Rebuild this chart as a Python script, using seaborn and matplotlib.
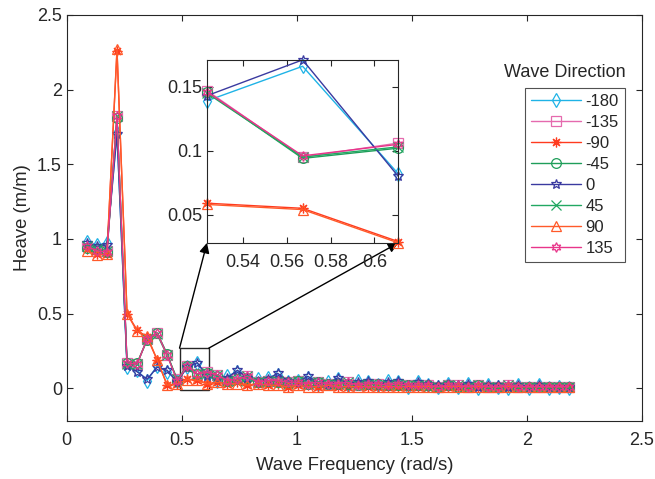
import numpy as np
import pandas as pd
import seaborn as sns
import matplotlib.pyplot as plt
from matplotlib.patches import Rectangle
from matplotlib.ticker import FuncFormatter

sns.set_theme(style="ticks")
plt.rcParams["font.family"] = ["Liberation Sans", "DejaVu Sans"]
plt.rcParams["xtick.direction"] = "in"
plt.rcParams["ytick.direction"] = "in"

# frequency steps of pi/72 rad/s, k = 2..50
steps = list(range(2, 51))
directions = ["-180", "-135", "-90", "-45", "0", "45", "90", "135"]

heave_m180 = [0.98, 0.96, 0.97, 1.71, 0.14, 0.12, 0.05, 0.15, 0.11, 0.05, 0.139, 0.166, 0.082,
              0.05, 0.08, 0.11, 0.06, 0.06, 0.07, 0.09, 0.04, 0.05, 0.07,
              0.03, 0.04, 0.06, 0.02, 0.05, 0.04, 0.02, 0.05, 0.04, 0.01,
              0.04, 0.02, 0.01, 0.03, 0.01, 0.03, 0.00, 0.02, 0.01, 0.00,
              0.02, 0.00, 0.02, 0.00, 0.01, 0.00]
heave_m135 = [0.95, 0.92, 0.92, 1.82, 0.17, 0.16, 0.33, 0.37, 0.22, 0.06, 0.147, 0.095, 0.106,
              0.09, 0.05, 0.06, 0.08, 0.04, 0.05, 0.05, 0.04, 0.05, 0.03,
              0.04, 0.03, 0.03, 0.04, 0.02, 0.03, 0.03, 0.02, 0.03, 0.02,
              0.02, 0.02, 0.01, 0.02, 0.02, 0.01, 0.02, 0.01, 0.01, 0.02,
              0.01, 0.01, 0.01, 0.01, 0.01, 0.01]
heave_m90 = [0.93, 0.90, 0.90, 2.26, 0.50, 0.39, 0.34, 0.19, 0.02, 0.03, 0.059, 0.055, 0.029,
             0.04, 0.03, 0.04, 0.02, 0.03, 0.02, 0.03, 0.01, 0.02, 0.02,
             0.01, 0.02, 0.01, 0.01, 0.02, 0.01, 0.01, 0.01, 0.01, 0.01,
             0.01, 0.01, 0.01, 0.01, 0.01, 0.01, 0.01, 0.01, 0.01, 0.01,
             0.01, 0.01, 0.01, 0.01, 0.01, 0.01]
heave_m45 = [0.94, 0.93, 0.91, 1.81, 0.17, 0.17, 0.32, 0.37, 0.23, 0.05, 0.146, 0.094, 0.102,
             0.08, 0.05, 0.06, 0.07, 0.04, 0.05, 0.04, 0.04, 0.05, 0.03,
             0.04, 0.03, 0.03, 0.03, 0.02, 0.03, 0.03, 0.02, 0.02, 0.02,
             0.02, 0.02, 0.01, 0.02, 0.01, 0.01, 0.02, 0.01, 0.01, 0.01,
             0.01, 0.01, 0.01, 0.01, 0.01, 0.01]
heave_0 = [0.97, 0.95, 0.96, 1.70, 0.15, 0.11, 0.06, 0.14, 0.12, 0.04, 0.143, 0.171, 0.080,
           0.06, 0.07, 0.12, 0.07, 0.05, 0.06, 0.10, 0.05, 0.04, 0.08,
           0.04, 0.03, 0.07, 0.03, 0.04, 0.05, 0.03, 0.04, 0.05, 0.02,
           0.04, 0.03, 0.02, 0.03, 0.02, 0.03, 0.01, 0.02, 0.02, 0.01,
           0.02, 0.01, 0.02, 0.01, 0.01, 0.01]
heave_45 = [0.95, 0.93, 0.92, 1.82, 0.16, 0.16, 0.33, 0.36, 0.22, 0.06, 0.145, 0.095, 0.103,
            0.09, 0.05, 0.05, 0.08, 0.04, 0.05, 0.05, 0.03, 0.05, 0.03,
            0.04, 0.03, 0.03, 0.04, 0.02, 0.03, 0.02, 0.02, 0.03, 0.02,
            0.02, 0.01, 0.01, 0.02, 0.02, 0.01, 0.02, 0.01, 0.01, 0.02,
            0.01, 0.01, 0.01, 0.01, 0.01, 0.01]
heave_90 = [0.92, 0.89, 0.90, 2.27, 0.50, 0.38, 0.35, 0.19, 0.02, 0.03, 0.058, 0.054, 0.028,
            0.04, 0.03, 0.03, 0.02, 0.03, 0.02, 0.02, 0.01, 0.02, 0.01,
            0.01, 0.02, 0.01, 0.01, 0.01, 0.01, 0.01, 0.01, 0.01, 0.01,
            0.01, 0.01, 0.01, 0.01, 0.01, 0.01, 0.01, 0.01, 0.01, 0.01,
            0.01, 0.01, 0.01, 0.01, 0.01, 0.01]
heave_135 = [0.95, 0.92, 0.91, 1.82, 0.17, 0.16, 0.33, 0.37, 0.22, 0.05, 0.146, 0.096, 0.105,
             0.09, 0.05, 0.06, 0.08, 0.04, 0.05, 0.05, 0.04, 0.04, 0.03,
             0.04, 0.03, 0.03, 0.04, 0.02, 0.03, 0.03, 0.02, 0.03, 0.02,
             0.02, 0.02, 0.01, 0.02, 0.02, 0.01, 0.02, 0.01, 0.01, 0.02,
             0.01, 0.01, 0.01, 0.01, 0.01, 0.01]

series = [heave_m180, heave_m135, heave_m90, heave_m45, heave_0, heave_45, heave_90, heave_135]
colors = ["#1fb3e6", "#e56aae", "#ff3b1f", "#1f9e5a", "#3a3aa0", "#22a862", "#ff5a2a", "#e8358a"]
markers = ["d", "s", (8, 2, 0), "o", "*", "x", "^", (6, 1, 0)]

freq = np.array(steps) * np.pi / 72
df = pd.DataFrame({"freq": np.tile(freq, len(directions)),
                   "heave": np.concatenate(series),
                   "dir": np.repeat(directions, len(steps))})

fig = plt.figure(figsize=(6.55, 4.79), dpi=100)
ax = fig.add_axes([0.102, 0.121, 0.878, 0.848])
ins = fig.add_axes([0.316, 0.493, 0.292, 0.382])

# inset shows k = 12..14
zoom_lo, zoom_hi = steps.index(12), steps.index(14)
for d, c, m in zip(directions, colors, markers):
    sub = df[df["dir"] == d]
    kw = dict(color=c, marker=m, mfc="none", mec=c, ms=7, mew=0.9, lw=1, estimator=None)
    sns.lineplot(data=sub, x="freq", y="heave", ax=ax, label=d, **kw)
    sns.lineplot(data=sub.iloc[zoom_lo:zoom_hi + 1], x="freq", y="heave", ax=ins,
                 legend=False, clip_on=False, **kw)

fmt = FuncFormatter(lambda v, p: "%g" % round(v, 4))
ax.set_xlim(0, 2.5)
ax.set_ylim(-0.22, 2.5)
ax.set_xticks(np.arange(0, 2.51, 0.5))
ax.set_yticks(np.arange(0, 2.51, 0.5))
ax.xaxis.set_major_formatter(fmt)
ax.yaxis.set_major_formatter(fmt)
ax.set_xlabel("Wave Frequency (rad/s)", fontsize=13.3, labelpad=6)
ax.set_ylabel("Heave (m/m)", fontsize=13.3)

inset_vals = np.concatenate([s[zoom_lo:zoom_hi + 1] for s in series])
ins.set_xlim(freq[zoom_lo], freq[zoom_hi])
ins.set_ylim(inset_vals.min(), inset_vals.max())
ins.set_xticks([0.54, 0.56, 0.58, 0.6])
ins.set_yticks([0.05, 0.1, 0.15])
ins.xaxis.set_major_formatter(fmt)
ins.yaxis.set_major_formatter(fmt)
ins.set_xlabel("")
ins.set_ylabel("")

for a in (ax, ins):
    a.tick_params(labelsize=13, length=4, width=0.8, colors="#262626", top=True, right=True)
    for s in a.spines.values():
        s.set_color("#262626")
        s.set_linewidth(0.8)
ax.tick_params(axis="x", pad=8)
ins.tick_params(axis="x", pad=8)

# zoom box and arrows to the inset
ax.add_patch(Rectangle((0.49, -0.015), 0.127, 0.283, fill=False, ec="#262626", lw=1))
for corner, src in [((0, 0), (0.49, 0.268)), ((1, 0), (0.617, 0.268))]:
    ax.annotate("", xy=corner, xycoords=ins.transAxes, xytext=src, textcoords="data",
                arrowprops=dict(arrowstyle="-|>", color="black", lw=1, shrinkA=0, shrinkB=0,
                                mutation_scale=15))

handles, labels = ax.get_legend_handles_labels()
leg = ax.legend(handles, labels, loc="upper right", bbox_to_anchor=(0.970, 0.820),
                borderaxespad=0, fontsize=12, handlelength=3.0, labelspacing=0.36,
                frameon=True, fancybox=False, edgecolor="#262626", handletextpad=0.3,
                borderpad=0.35)
leg.get_frame().set_linewidth(0.8)
ax.text(0.866, 0.857, "Wave Direction", transform=ax.transAxes, ha="center", va="center",
        fontsize=13, color="#262626")

fig.savefig("out.png", dpi=100)
